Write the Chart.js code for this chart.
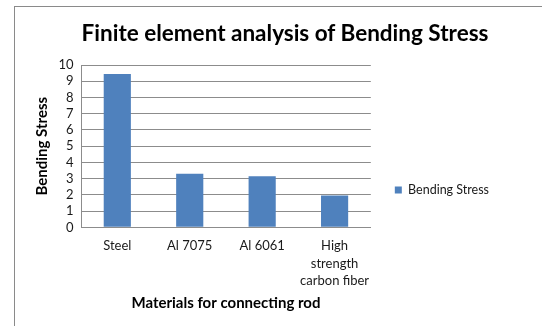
<!DOCTYPE html>
<html>
<head>
<meta charset="utf-8">
<script src="https://cdn.jsdelivr.net/npm/chart.js@4/dist/chart.umd.min.js"></script>
<style>
  html, body { margin: 0; padding: 0; background: #fff; }
  #wrap { position: relative; width: 542px; height: 326px; }
  #frame { position: absolute; left: 14px; top: 6px; right: 0; bottom: 0;
           border-left: 1px solid #8a8a8a; border-top: 1px solid #8a8a8a; }
  #title { position: absolute; left: 80px; width: 410px; top: 19px; line-height: 26px;
           text-align: center; font: bold 22.5px Lato, "Open Sans", sans-serif; color: #000; }
  canvas { position: absolute; left: 0; top: 0; }
</style>
</head>
<body>
<div id="wrap">
  <div id="frame"></div>
  <canvas id="myChart" width="542" height="326"></canvas>
  <div id="title"></div>
</div>
<script>
const materials = ['Steel', 'Al 7075', 'Al 6061', ['High', 'strength', 'carbon fiber']];
const bendingStress = [9.45, 3.3, 3.15, 1.96];
const seriesName = 'Bending Stress';
const chartTitle = 'Finite element analysis of Bending Stress';
const xTitle = 'Materials for connecting rod';
const yTitle = 'Bending Stress';

const fontFamily = 'Lato, "Open Sans", sans-serif';
const textColor = '#1a1a1a';
const gridColor = '#8c8c8c';

const createChart = () => {
    // title sits in html so it can be centred over the whole excel frame
    document.getElementById('title').innerText = chartTitle;

    const ctx = document.getElementById('myChart');
    new Chart(ctx, {
        type: 'bar',
        data: {
            labels: materials,
            datasets: [{
                label: seriesName,
                data: bendingStress,
                backgroundColor: '#4f81bd',
                borderWidth: 0,
                barPercentage: 0.375,
                categoryPercentage: 1
            }]
        },
        options: {
            responsive: false,
            animation: false,
            devicePixelRatio: 1,
            layout: { padding: { left: 33, right: 43, top: 65, bottom: 11 } },
            plugins: {
                legend: {
                    position: 'right',
                    align: 'center',
                    maxWidth: 200,
                    labels: {
                        boxWidth: 7,
                        boxHeight: 7,
                        padding: 24,
                        color: textColor,
                        font: { family: fontFamily, size: 12.5 }
                    }
                },
                tooltip: { enabled: false }
            },
            scales: {
                x: {
                    grid: { display: false, drawTicks: false },
                    border: { display: true, color: gridColor, width: 1 },
                    ticks: {
                        color: textColor,
                        padding: 10,
                        maxRotation: 0,
                        autoSkip: false,
                        font: { family: fontFamily, size: 13, lineHeight: 1.35 }
                    },
                    title: {
                        display: true,
                        text: xTitle,
                        color: '#000',
                        font: { family: fontFamily, size: 15, weight: 'bold' },
                        padding: { top: -6, bottom: 3 }
                    }
                },
                y: {
                    min: 0,
                    max: 10,
                    grid: { color: gridColor, drawTicks: false },
                    border: { display: true, color: gridColor, width: 1 },
                    ticks: {
                        stepSize: 1,
                        autoSkip: false,
                        color: textColor,
                        padding: 7.5,
                        font: { family: fontFamily, size: 13 }
                    },
                    title: {
                        display: true,
                        text: yTitle,
                        color: '#000',
                        font: { family: fontFamily, size: 15, weight: 'bold' },
                        padding: { top: 0, bottom: 0 }
                    }
                }
            }
        }
    });
}

(function() {
    createChart();
})();
</script>
</body>
</html>
